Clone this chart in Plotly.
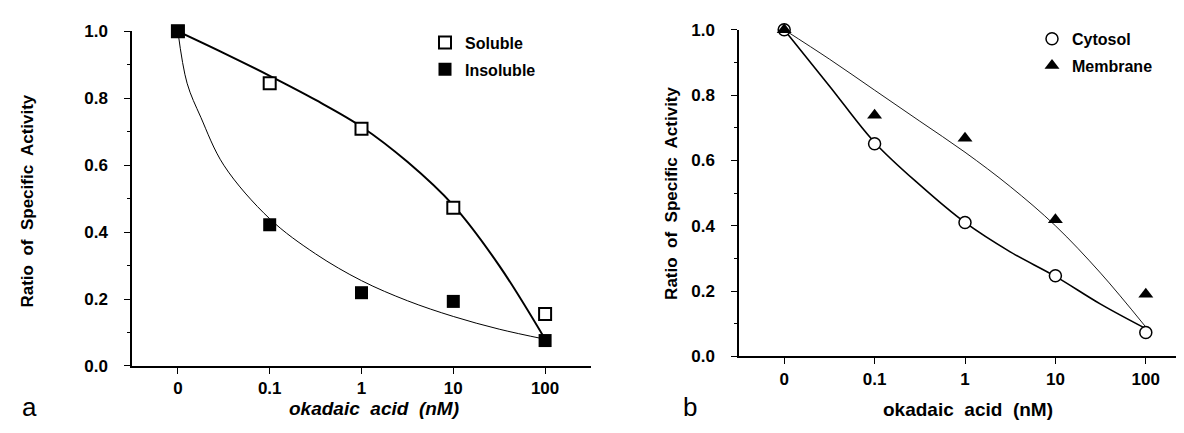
import plotly.graph_objects as go

# ---------------- data ----------------
conc_labels = ["0", "0.1", "1", "10", "100"]
conc_pos = [0, 1, 2, 3, 4]

# panel a
soluble = [1.0, 0.845, 0.709, 0.473, 0.155]
insoluble = [1.0, 0.422, 0.219, 0.193, 0.076]
sol_curve_pos = [0, 0.5, 1, 1.5, 2, 2.5, 3, 3.5, 4]
soluble_fit = [1.0, 0.935, 0.867, 0.795, 0.715, 0.61, 0.48, 0.30, 0.08]
ins_curve_pos = [0, 0.1, 0.25, 0.5, 1, 1.5, 2, 2.5, 3, 3.5, 4]
insoluble_fit = [1.0, 0.845, 0.743, 0.60, 0.44, 0.335, 0.255, 0.195, 0.148, 0.11, 0.08]

# panel b
cytosol = [1.0, 0.651, 0.41, 0.247, 0.073]
membrane = [1.0, 0.738, 0.668, 0.418, 0.19]
curve_pos_b = [0, 0.5, 1, 1.5, 2, 2.5, 3, 3.5, 4]
cytosol_fit = [1.0, 0.828, 0.655, 0.525, 0.41, 0.32, 0.245, 0.16, 0.085]
membrane_fit = [1.0, 0.91, 0.815, 0.72, 0.625, 0.52, 0.40, 0.255, 0.09]

y_ticks = [0.0, 0.2, 0.4, 0.6, 0.8, 1.0]

FONT = "Liberation Sans, Arial, Helvetica, sans-serif"
W, H = 1184, 433

fig = go.Figure()

# ---- panel a curves
fig.add_trace(go.Scatter(x=sol_curve_pos, y=soluble_fit, mode="lines", line=dict(color="black", width=2, shape="spline"),
                         showlegend=False, xaxis="x", yaxis="y", hoverinfo="skip"))
fig.add_trace(go.Scatter(x=ins_curve_pos, y=insoluble_fit, mode="lines", line=dict(color="black", width=1, shape="spline"),
                         showlegend=False, xaxis="x", yaxis="y", hoverinfo="skip"))
# ---- panel a markers
fig.add_trace(go.Scatter(x=conc_pos, y=soluble, mode="markers", name="Soluble",
                         marker=dict(symbol="square", size=12, color="white", line=dict(color="black", width=2)),
                         cliponaxis=False, xaxis="x", yaxis="y", legend="legend", legendgroup="a1"))
fig.add_trace(go.Scatter(x=conc_pos, y=insoluble, mode="markers", name="Insoluble",
                         marker=dict(symbol="square", size=13, color="black", line=dict(color="black", width=0)),
                         cliponaxis=False, xaxis="x", yaxis="y", legend="legend", legendgroup="a2"))

# ---- panel b curves
fig.add_trace(go.Scatter(x=curve_pos_b, y=cytosol_fit, mode="lines", line=dict(color="black", width=1.6, shape="spline"),
                         showlegend=False, xaxis="x2", yaxis="y2", hoverinfo="skip"))
fig.add_trace(go.Scatter(x=curve_pos_b, y=membrane_fit, mode="lines", line=dict(color="black", width=0.9, shape="spline"),
                         showlegend=False, xaxis="x2", yaxis="y2", hoverinfo="skip"))
# ---- panel b markers
fig.add_trace(go.Scatter(x=conc_pos, y=cytosol, mode="markers", name="Cytosol",
                         marker=dict(symbol="circle", size=12, color="white", line=dict(color="black", width=1.5)),
                         cliponaxis=False, xaxis="x2", yaxis="y2", legend="legend2", legendgroup="b1"))
fig.add_trace(go.Scatter(x=conc_pos, y=membrane, mode="markers", name="Membrane",
                         marker=dict(symbol="triangle-up", size=13, color="black", line=dict(color="black", width=0)),
                         cliponaxis=False, xaxis="x2", yaxis="y2", legend="legend2", legendgroup="b2"))


def xax(domain):
    return dict(domain=domain, range=[-0.5, 4.5], tickvals=conc_pos, ticktext=conc_labels,
                showline=True, linecolor="black", linewidth=1.5, ticks="outside", ticklen=6, tickwidth=1.2,
                tickcolor="black", showgrid=False, zeroline=False, ticklabelstandoff=0,
                tickfont=dict(family=FONT, size=17, color="black", weight="bold"),
                fixedrange=True)


def yax(domain, anchor):
    return dict(domain=domain, range=[0, 1.0], tickvals=y_ticks, tickformat=".1f", anchor=anchor,
                showline=True, linecolor="black", linewidth=1.5, ticks="outside", ticklen=6, tickwidth=1.2,
                tickcolor="black", showgrid=False, zeroline=False, ticklabelstandoff=13,
                minor=dict(dtick=0.1, ticks="outside", ticklen=3, tickwidth=1, tickcolor="black"),
                tickfont=dict(family=FONT, size=17, color="black", weight="bold"),
                fixedrange=True)


xa = xax([124 / W, 583 / W])
xa["anchor"] = "y"
xb = xax([731 / W, 1183 / W])
xb["anchor"] = "y2"

ya = yax([(H - 365) / H, (H - 15) / H], "x")
yb = yax([(H - 355) / H, (H - 13.3) / H], "x2")

legend_common = dict(bgcolor="rgba(0,0,0,0)", borderwidth=0, traceorder="grouped", tracegroupgap=3,
                     font=dict(family=FONT, size=16, color="black", weight="bold"),
                     xanchor="left", yanchor="top", itemsizing="trace")


def ann(text, x, y, size, bold=True, angle=0):
    f = dict(family=FONT, size=size, color="black")
    if bold:
        f["weight"] = "bold"
    return dict(text=text, x=x / W, y=(H - y) / H, xref="paper", yref="paper", xanchor="center",
                yanchor="middle", textangle=angle, showarrow=False, font=f)


annotations = [
    ann("Ratio  of  Specific  Activity", 20, 193, 17, angle=-90),
    ann("Ratio  of  Specific  Activity", 664, 185, 17, angle=-90),
    ann("<i>okadaic  acid  (nM)</i>", 366, 409, 19),
    ann("okadaic  acid  (nM)", 960, 411, 19),
    ann("a", 21, 408, 26, bold=False),
    ann("b", 682, 408, 26, bold=False),
]

fig.update_layout(
    width=W, height=H, margin=dict(l=0, r=0, t=0, b=0),
    paper_bgcolor="white", plot_bgcolor="white",
    xaxis=xa, yaxis=ya, xaxis2=xb, yaxis2=yb,
    legend=dict(x=417 / W, y=(H - 9) / H, **legend_common),
    legend2=dict(x=1024 / W, y=(H - 5) / H, **legend_common),
    annotations=annotations,
    font=dict(family=FONT, color="black"),
)

fig.write_html("out.html")
